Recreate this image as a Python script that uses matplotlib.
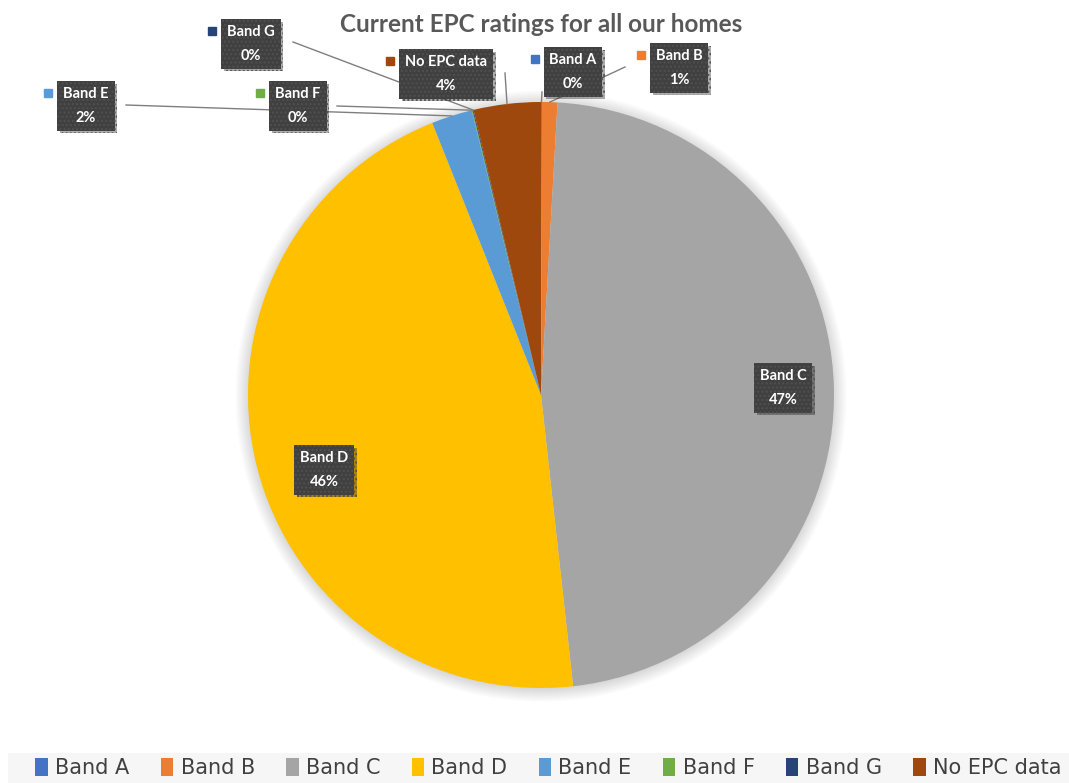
import numpy as np
import matplotlib
matplotlib.use("Agg")
import matplotlib.pyplot as plt
import matplotlib.patheffects as pe
from matplotlib.patches import Rectangle, Circle

# data (percent of homes)
bands = ["Band A", "Band B", "Band C", "Band D", "Band E", "Band F", "Band G", "No EPC data"]
shares = [0.05, 0.85, 47.35, 45.7, 2.25, 0.05, 0.05, 3.7]
colors = ["#4472c4", "#ed7d31", "#a5a5a5", "#ffc000", "#5b9bd5", "#70ad47", "#264478", "#9e480e"]
labels_shown = ["0%", "1%", "47%", "46%", "2%", "0%", "0%", "4%"]

W, H = 1069, 783
CX, CY, R = 541, 395, 293


def px(x, y):
    # pixel position -> data coords (pie radius 1)
    return (x - CX) / R, (CY - y) / R


fig = plt.figure(figsize=(W / 100, H / 100), dpi=100)
ax = fig.add_axes([0, 0, 1, 1])

# soft shadow round the pie
for k in range(8):
    ax.add_patch(Circle((0, -0.004), 1 + 0.006 * k, color="black", alpha=0.018, lw=0, zorder=0))

wedges, _ = ax.pie(shares, colors=colors, startangle=90, counterclock=False,
                   radius=1, center=(0, 0), wedgeprops=dict(linewidth=0),
                   frame=True)
ax.set_xlim(-CX / R, (W - CX) / R)
ax.set_ylim(-(H - CY) / R, CY / R)
ax.set_aspect("equal")
ax.axis("off")

fig.text(CX / W, 1 - 25 / H, "Current EPC ratings for all our homes", ha="center", va="center",
         fontsize=17.5, fontweight="bold", color="#595959", family="Lato")

# label boxes: centre px, line anchor px (None = inside)
box_pos = {
    "Band A": ((573, 72), (542, 92)),
    "Band B": ((679, 68), (625, 67)),
    "Band C": ((783, 388), None),
    "Band D": ((324, 470), None),
    "Band E": ((86, 106), (126, 105)),
    "Band F": ((298, 106), (337, 106)),
    "Band G": ((251, 44), (293, 42)),
    "No EPC data": ((446, 74), (505, 73)),
}

outside = []
for i, (name, w) in enumerate(zip(bands, wedges)):
    (bx, by), anchor = box_pos[name]
    mid = np.deg2rad((w.theta1 + w.theta2) / 2)
    if anchor is not None:
        ex, ey = np.cos(mid), np.sin(mid)
        ax0, ay0 = px(*anchor)
        ax.plot([ax0, ex], [ay0, ey], color="#7f7f7f", lw=1, zorder=3)
    tx, ty = px(bx, by)
    t = ax.text(tx, ty, name + "\n" + labels_shown[i], ha="center", va="center",
                color="white", fontsize=10.5, fontweight="bold", family="Lato",
                linespacing=1.85, zorder=6,
                bbox=dict(boxstyle="square,pad=0.4", facecolor="#404040",
                          edgecolor="#505050", linewidth=0, hatch="...."))
    t.get_bbox_patch().set_path_effects([pe.withSimplePatchShadow(offset=(2, -2), alpha=0.35)])
    if anchor is not None:
        outside.append((t, colors[i]))

# legend keys next to the outside labels
fig.canvas.draw()
inv = ax.transData.inverted()
for t, c in outside:
    bb = t.get_bbox_patch().get_window_extent()
    kx, ky = inv.transform((bb.x0 - 9, bb.y1 - 12))
    ax.plot(kx, ky, marker="s", ms=6, color=c, zorder=6, linestyle="none")

# legend strip
fig.patches.append(Rectangle((8 / W, 0), 1, 30 / H, transform=fig.transFigure,
                             facecolor="#f6f6f6", edgecolor="none", zorder=0))
leg = fig.legend(wedges, bands, loc="center", bbox_to_anchor=(0.513, 15 / H), ncol=8,
                 frameon=False, handlelength=0.6, handleheight=1.0, handletextpad=0.35,
                 columnspacing=1.5, prop=dict(family="DejaVu Sans", size=15))
for txt in leg.get_texts():
    txt.set_color("#404040")

fig.savefig("out.png", dpi=100, facecolor="white")
